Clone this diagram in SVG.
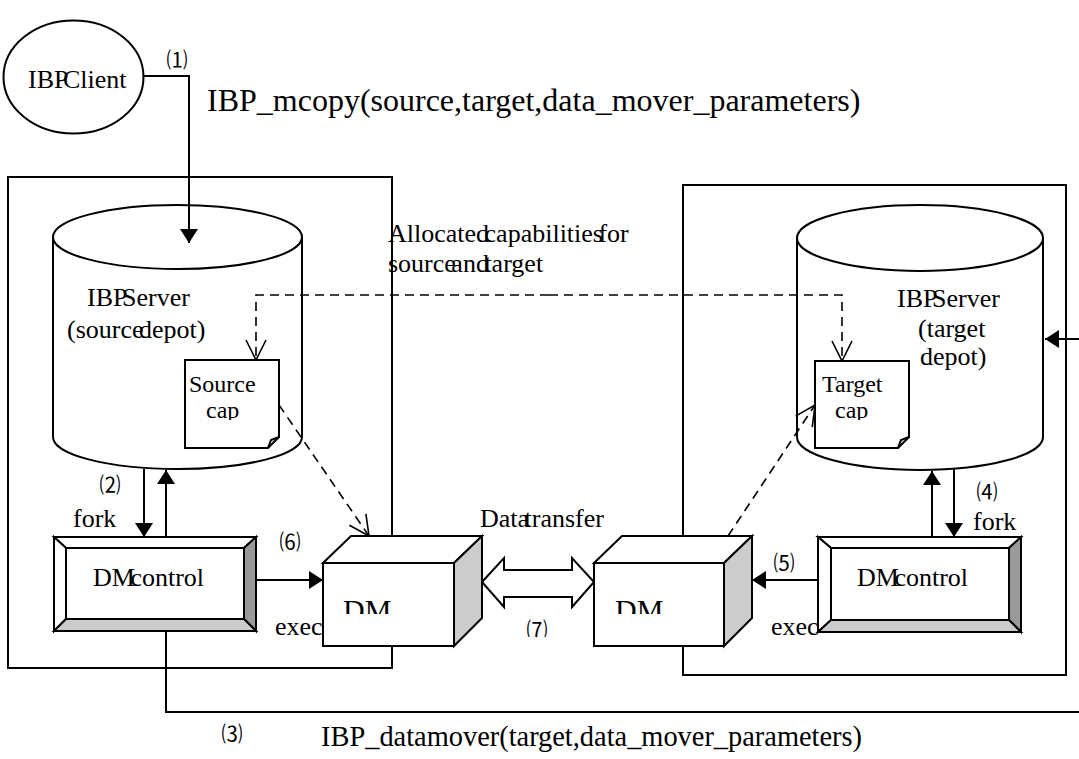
<svg xmlns="http://www.w3.org/2000/svg" width="1079" height="759" viewBox="0 0 1079 759">
<style>
  .ln{fill:none;stroke:#000;stroke-width:2}
  .dl{fill:none;stroke:#000;stroke-width:1.6;stroke-dasharray:9 6}
  .sh{fill:#fff;stroke:#000;stroke-width:2}
  .t{font-family:"Liberation Serif","Times New Roman",serif;font-size:26px;fill:#000;word-spacing:-11px}
  .ts{font-family:"Liberation Serif","Times New Roman",serif;font-size:24px;fill:#000}
  .tl{font-family:"Liberation Serif","Times New Roman",serif;font-size:32px;fill:#000}
  .tdm{font-family:"Liberation Serif","Times New Roman",serif;font-size:30px;fill:#000}
  .n{font-family:"Noto Sans CJK SC","DejaVu Sans",sans-serif;font-size:21px;fill:#000;text-anchor:middle}
</style>
<defs>
  <marker id="fa" viewBox="0 0 14 18" refX="14" refY="9" markerWidth="14" markerHeight="18" markerUnits="userSpaceOnUse" orient="auto">
    <path d="M0,0 L14,9 L0,18 Z" fill="#000"/>
  </marker>
  <marker id="oa" viewBox="0 0 22 22" refX="21" refY="11" markerWidth="22" markerHeight="22" markerUnits="userSpaceOnUse" orient="auto">
    <path d="M1,1 L21,11 L1,21" fill="none" stroke="#000" stroke-width="1.6"/>
  </marker>
  <clipPath id="capL"><rect x="180" y="360" width="100" height="60"/></clipPath>
  <clipPath id="capR"><rect x="810" y="360" width="100" height="60"/></clipPath>
  <clipPath id="dmL"><rect x="330" y="590" width="100" height="24"/></clipPath>
  <clipPath id="dmR"><rect x="600" y="590" width="100" height="24"/></clipPath>
  <clipPath id="n7"><rect x="520" y="610" width="40" height="27"/></clipPath>
</defs>
<rect width="1079" height="759" fill="#fff"/>

<g id="source-host">
  <rect class="ln" x="8" y="177" width="384" height="491"/>
</g>
<g id="target-host">
  <rect class="ln" x="683" y="185" width="383" height="490"/>
</g>

<g id="ibp-client">
  <ellipse class="sh" cx="73.5" cy="77" rx="70" ry="56.5"/>
  <text class="t" x="28" y="88">IBP Client</text>
</g>

<g id="source-depot">
  <path class="sh" d="M53,237 V437 A124.5,32 0 0 0 302,437 V237"/>
  <ellipse class="sh" cx="177.5" cy="237" rx="124.5" ry="32"/>
  <text class="t" x="87" y="306">IBP Server</text>
  <text class="t" x="67" y="338">(source depot)</text>
</g>

<g id="source-cap">
  <path class="sh" d="M185,360 H279 V437 L268,448 H185 Z"/>
  <path class="ln" d="M279,437 L271,440 L268,448" stroke-width="1.6"/>
  <text class="ts" x="189" y="392">Source</text>
  <text class="ts" x="206" y="418" clip-path="url(#capL)">cap</text>
</g>

<g id="target-depot">
  <path class="sh" d="M797,238 V437 A123,33 0 0 0 1043,437 V238"/>
  <ellipse class="sh" cx="920" cy="238" rx="123" ry="33"/>
  <text class="t" x="897" y="307">IBP Server</text>
  <text class="t" x="918" y="337">(target</text>
  <text class="t" x="920" y="365">depot)</text>
</g>

<g id="target-cap">
  <path class="sh" d="M815,361 H909 V437 L898,448 H815 Z"/>
  <path class="ln" d="M909,437 L901,440 L898,448" stroke-width="1.6"/>
  <text class="ts" x="822" y="392">Target</text>
  <text class="ts" x="835" y="418" clip-path="url(#capR)">cap</text>
</g>

<g id="dm-control-left">
  <rect x="54" y="537" width="202" height="94" fill="#fff"/>
  <path d="M54,537 H256 L244,548 H66 Z" fill="#fff" stroke="#000" stroke-width="2"/>
  <path d="M54,537 L66,548 V619 L54,631 Z" fill="#fff" stroke="#000" stroke-width="2"/>
  <path d="M256,537 V631 L244,619 V548 Z" fill="#999" stroke="#000" stroke-width="2"/>
  <path d="M54,631 H256 L244,619 H66 Z" fill="#ccc" stroke="#000" stroke-width="2"/>
  <rect x="66" y="548" width="178" height="71" fill="#fff" stroke="#000" stroke-width="2"/>
  <text class="t" x="93" y="586">DM control</text>
</g>

<g id="dm-control-right">
  <rect x="818" y="537" width="203" height="95" fill="#fff"/>
  <path d="M818,537 H1021 L1009,548 H831 Z" fill="#fff" stroke="#000" stroke-width="2"/>
  <path d="M818,537 L831,548 V620 L818,632 Z" fill="#fff" stroke="#000" stroke-width="2"/>
  <path d="M1021,537 V632 L1009,620 V548 Z" fill="#999" stroke="#000" stroke-width="2"/>
  <path d="M818,632 H1021 L1009,620 H831 Z" fill="#ccc" stroke="#000" stroke-width="2"/>
  <rect x="831" y="548" width="178" height="72" fill="#fff" stroke="#000" stroke-width="2"/>
  <text class="t" x="857" y="586">DM control</text>
</g>

<g id="labels">
  <text class="n" x="177" y="67">⑴</text>
  <text class="tl" x="207" y="111">IBP_mcopy(source,target,data_mover_parameters)</text>
  <text class="t" x="388" y="242">Allocated capabilities for</text>
  <text class="t" x="388" y="272">source and target</text>
  <text class="n" x="110" y="492">⑵</text>
  <text class="t" x="73" y="527">fork</text>
  <text class="n" x="290" y="549">⑹</text>
  <text class="t" x="275" y="635">exec</text>
  <text class="t" x="480" y="527">Data transfer</text>
  <text class="n" x="537" y="637" clip-path="url(#n7)">⑺</text>
  <text class="n" x="784" y="570">⑸</text>
  <text class="t" x="771" y="635">exec</text>
  <text class="n" x="987" y="499">⑷</text>
  <text class="t" x="973" y="530">fork</text>
  <text class="n" x="232" y="741">⑶</text>
  <text class="tl" x="321" y="746" style="font-size:28.4px">IBP_datamover(target,data_mover_parameters)</text>
</g>

<g id="connectors">
  <path class="ln" d="M143,76 H189 V243" marker-end="url(#fa)"/>
  <path class="ln" d="M144,469 V537" marker-end="url(#fa)"/>
  <path class="ln" d="M166,537 V470" marker-end="url(#fa)"/>
  <path class="ln" d="M256,580 H323" marker-end="url(#fa)"/>
  <path class="ln" d="M818,580 H752" marker-end="url(#fa)"/>
  <path class="ln" d="M932,537 V471" marker-end="url(#fa)"/>
  <path class="ln" d="M954,469 V537" marker-end="url(#fa)"/>
  <path class="ln" d="M1079,339 H1045" marker-end="url(#fa)"/>
  <path class="ln" d="M166,631 V712 H1079"/>
  <path class="dl" d="M549,295 H256 V360" marker-end="url(#oa)"/>
  <path class="dl" d="M549,295 H842 V361" marker-end="url(#oa)"/>
  <path class="dl" d="M279,405 L369,536" marker-end="url(#oa)"/>
  <path class="dl" d="M728,536 L815,405" marker-end="url(#oa)"/>
  <path class="sh" d="M482,582 L504,558 V570 H572 V558 L594,582 L572,607 V597 H504 V607 Z" stroke-width="1.6"/>
</g>

<g id="dm-left">
  <path class="sh" d="M323,563 L351,536 H482 L454,563 Z"/>
  <path d="M454,563 L482,536 V618 L454,646 Z" fill="#ccc" stroke="#000" stroke-width="2"/>
  <rect class="sh" x="323" y="563" width="131" height="83"/>
  <text class="tdm" x="343" y="620" clip-path="url(#dmL)">DM</text>
</g>

<g id="dm-right">
  <path class="sh" d="M594,563 L622,536 H752 L724,563 Z"/>
  <path d="M724,563 L752,536 V618 L724,646 Z" fill="#ccc" stroke="#000" stroke-width="2"/>
  <rect class="sh" x="594" y="563" width="130" height="83"/>
  <text class="tdm" x="615" y="620" clip-path="url(#dmR)">DM</text>
</g>
</svg>
